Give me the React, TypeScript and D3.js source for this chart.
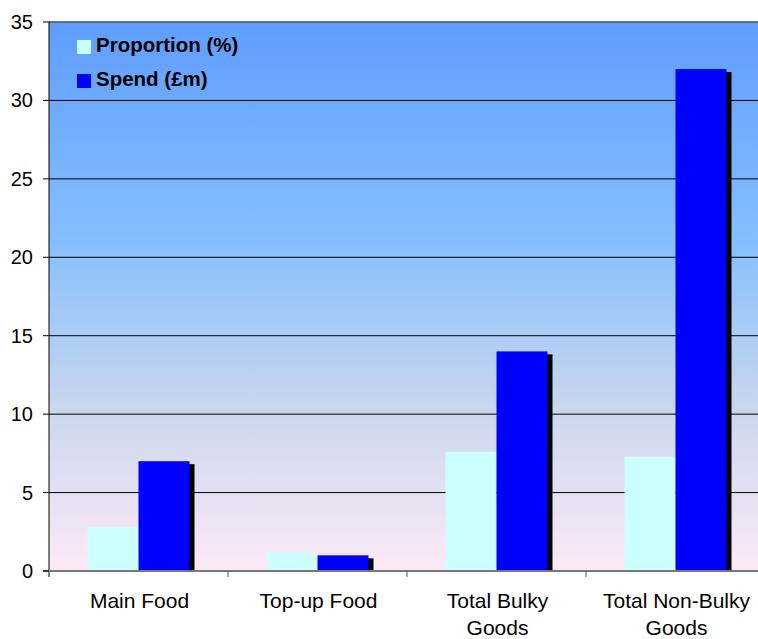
import React from "react";
import * as d3 from "d3";

const categories = [["Main Food"], ["Top-up Food"], ["Total Bulky", "Goods"], ["Total Non-Bulky", "Goods"]];
const proportion = [2.8, 1.2, 7.6, 7.3];
const spend = [7.0, 1.0, 14.0, 32.0];
const seriesNames = ["Proportion (%)", "Spend (£m)"];
const yTicks = [0, 5, 10, 15, 20, 25, 30, 35];

const W = 758, H = 639;
const left = 49, right = 765, top = 22, bottom = 571;

export default function App() {
  const x = d3.scaleBand<number>().domain(d3.range(categories.length)).range([left, right]);
  const y = d3.scaleLinear().domain([0, 35]).range([bottom, top]);
  const bw = 51;
  const inner = (x.bandwidth() - 2 * bw) / 2;
  const font = "Arial, 'Liberation Sans', sans-serif";
  return (
    <svg width={W} height={H} style={{ position: "absolute", left: 0, top: 0 }} fontFamily={font}>
      <defs>
        <linearGradient id="bg" x1="0" y1="0" x2="0" y2="1">
          <stop offset="0" stopColor="#5f9dfe" />
          <stop offset="0.4" stopColor="#86bffd" />
          <stop offset="0.72" stopColor="#cdd8ee" />
          <stop offset="1" stopColor="#fde9f7" />
        </linearGradient>
        <clipPath id="plot">
          <rect x={left} y={top} width={right - left} height={bottom - top} />
        </clipPath>
      </defs>
      <rect x={left} y={top} width={right - left} height={bottom - top} fill="url(#bg)" />
      {yTicks.filter(t => t > 0 && t < 35).map(t => (
        <line key={t} x1={left} x2={right} y1={y(t)} y2={y(t)} stroke="#000" strokeWidth={1} />
      ))}
      <line x1={left} x2={right} y1={top} y2={top} stroke="#4a5060" strokeWidth={1.5} />
      <g clipPath="url(#plot)">
        {spend.map((v, i) => (
          <rect key={"s" + i} x={(x(i) as number) + inner + bw + 5} y={y(v) + 3} width={bw} height={bottom - y(v)} fill="#000" />
        ))}
        {proportion.map((v, i) => (
          <rect key={"p" + i} x={(x(i) as number) + inner} y={y(v)} width={bw} height={bottom - y(v)} fill="#ccffff" />
        ))}
        {spend.map((v, i) => (
          <rect key={"b" + i} x={(x(i) as number) + inner + bw} y={y(v)} width={bw} height={bottom - y(v)} fill="#0000ff" />
        ))}
      </g>
      <line x1={left} x2={left} y1={top} y2={bottom + 6} stroke="#000" strokeWidth={1} />
      <line x1={left - 6} x2={right} y1={bottom} y2={bottom} stroke="#777" strokeWidth={2} />
      {yTicks.map(t => (
        <g key={t}>
          <line x1={left - 6} x2={left} y1={y(t)} y2={y(t)} stroke="#000" />
          <text x={33} y={y(t)} dy="0.35em" textAnchor="end" fontSize={20} fill="#000">{t}</text>
        </g>
      ))}
      {categories.map((c, i) => (
        <g key={i}>
          <line x1={(x(i) as number) + x.bandwidth()} x2={(x(i) as number) + x.bandwidth()} y1={bottom} y2={bottom + 6} stroke="#555" />
          {c.map((line, j) => (
            <text key={j} x={(x(i) as number) + x.bandwidth() / 2 + 1} y={608 + j * 27} textAnchor="middle" fontSize={21} fill="#000">{line}</text>
          ))}
        </g>
      ))}
      <rect x={77} y={40} width={14} height={14} fill="#ccffff" />
      <text x={96} y={52} fontSize={20.5} fontWeight="bold" fill="#000">{seriesNames[0]}</text>
      <rect x={77} y={74} width={14} height={14} fill="#0000ff" />
      <text x={96} y={86} fontSize={20.5} fontWeight="bold" fill="#000">{seriesNames[1]}</text>
    </svg>
  );
}
